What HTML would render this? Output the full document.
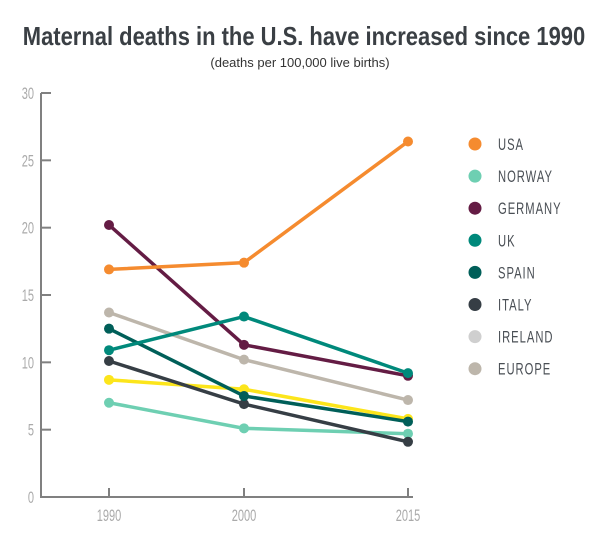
<!DOCTYPE html>
<html><head><meta charset="utf-8"><style>
body{margin:0;background:#fff;width:600px;height:533px;overflow:hidden}
svg text{font-family:"Liberation Sans",sans-serif}
</style></head><body>
<svg width="600" height="533">
<text x="304" y="45" text-anchor="middle" font-size="26" font-weight="bold" fill="#3a3f44" transform="translate(304,0) scale(0.845,1) translate(-304,0)">Maternal deaths in the U.S. have increased since 1990</text>
<text x="300" y="67" text-anchor="middle" font-size="13" fill="#333">(deaths per 100,000 live births)</text>
<g id="axes"></g><g id="lines"></g><g id="legend"></g>
</svg>
<script>
const years=[1990,2000,2015];
const yTicks=[0,5,10,15,20,25,30];
const names=["USA","NORWAY","GERMANY","UK","SPAIN","ITALY","IRELAND","EUROPE"];
const colors=["#f58b2f","#6ecfb2","#641c44","#00897b","#005f59","#363e45","#cfcfcf","#bdb6ab"];
const usa=[16.9,17.4,26.4];
const norway=[7.0,5.1,4.7];
const germany=[20.2,11.3,9.0];
const uk=[10.9,13.4,9.2];
const spain=[12.5,7.5,5.6];
const italy=[10.1,6.9,4.1];
const yellow=[8.7,8.0,5.8];
const europe=[13.7,10.2,7.2];
const NS="http://www.w3.org/2000/svg";
// piecewise x scale
const xDom=[1990,2000,2015], xRng=[109,244,408];
function sx(y){
 let i=0; while(i<xDom.length-2&&y>xDom[i+1])i++;
 return xRng[i]+(y-xDom[i])*(xRng[i+1]-xRng[i])/(xDom[i+1]-xDom[i]);
}
const sy=v=>497-v*(404/30);
function mk(t,a,p){const e=document.createElementNS(NS,t);for(const k in a)e.setAttribute(k,a[k]);p.appendChild(e);return e;}
const ax=document.getElementById('axes');
const yl=mk('line',{x1:41,y1:93,x2:41,y2:497,stroke:'#808080','stroke-width':2},ax);


const xl=mk('line',{x1:40,y1:497,x2:413,y2:497,stroke:'#808080','stroke-width':2},ax);


yTicks.forEach(v=>{
 mk('line',{x1:41,x2:51,y1:sy(v),y2:sy(v),stroke:'#808080','stroke-width':2},ax);
 const t=mk('text',{x:34,y:sy(v)+6,'text-anchor':'end','font-size':17,fill:'#aaaaaa',transform:`translate(34,0) scale(0.65,1) translate(-34,0)`},ax);
 t.textContent=v;
 
 
});
years.forEach(y=>{
 mk('line',{x1:sx(y),x2:sx(y),y1:488,y2:497,stroke:'#808080','stroke-width':2},ax);
 const t=mk('text',{x:sx(y),y:521,'text-anchor':'middle','font-size':17,fill:'#aaaaaa',transform:`translate(${sx(y)},0) scale(0.65,1) translate(${-sx(y)},0)`},ax);
 t.textContent=y;
 
 
});
const series=[[norway,colors[1],'norway'],[yellow,'#fce51b','unlabeled-yellow'],[italy,colors[5],'italy'],[spain,colors[4],'spain'],[europe,colors[7],'europe'],[germany,colors[2],'germany'],[uk,colors[3],'uk'],[usa,colors[0],'usa']];
const lg=document.getElementById('lines');
series.forEach(([d,c,n])=>{
 const g=mk('g',{},lg);
 
 
 mk('polyline',{points:d.map((v,i)=>sx(years[i])+','+sy(v)).join(' '),fill:'none',stroke:c,'stroke-width':3.5},g);
 d.forEach((v,i)=>{const p=mk('circle',{cx:sx(years[i]),cy:sy(v),r:5,fill:c},g);
  
  });
});
const leg=document.getElementById('legend');
names.forEach((n,i)=>{
 const y=144+i*32.1;
 const g=mk('g',{},leg);
 
 
 mk('circle',{cx:475,cy:y,r:6.5,fill:colors[i]},g);
 const t=mk('text',{x:498,y:y+6,'font-size':17,fill:'#4a4f55','letter-spacing':1.5,transform:`translate(498,0) scale(0.66,1) translate(-498,0)`},g);
 t.textContent=n;
});
</script>
</body></html>
